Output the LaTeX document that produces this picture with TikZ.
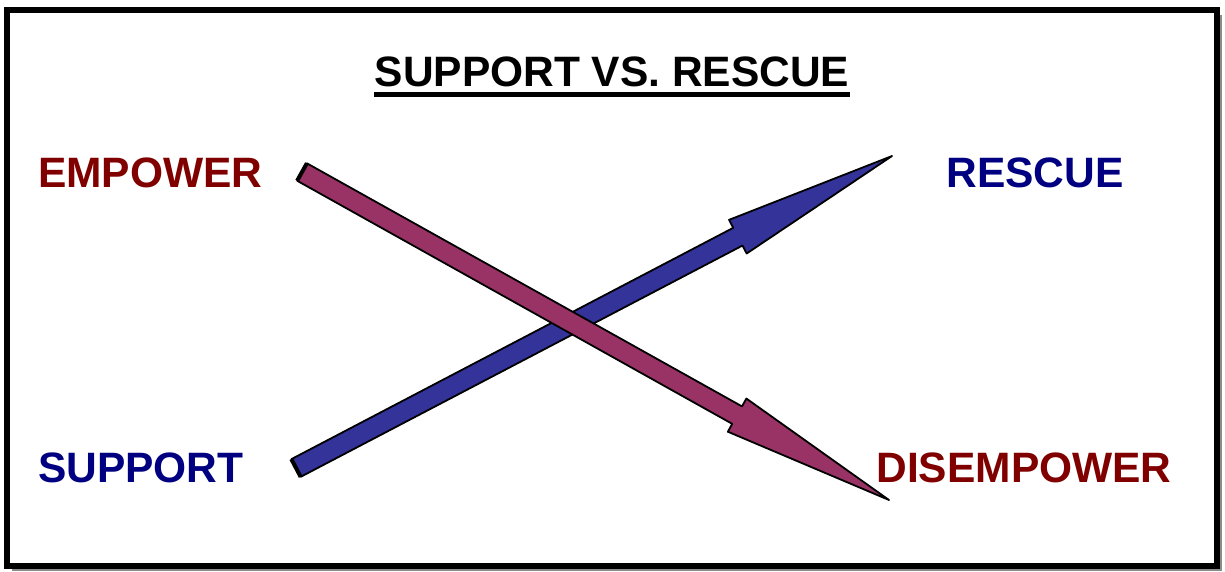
\documentclass[tikz,border=0pt]{standalone}
\usepackage{fontspec}
\setmainfont{Liberation Sans}
\usetikzlibrary{calc}

\definecolor{darkred}{RGB}{128,0,0}
\definecolor{navyblue}{RGB}{0,0,128}
\definecolor{plum}{RGB}{153,51,102}
\definecolor{indigo}{RGB}{51,51,153}

\begin{document}
\begin{tikzpicture}[
    x=1pt, y=-1pt,
    word/.style={inner sep=0pt, font=\fontsize{42.5}{50}\selectfont\bfseries},
    redword/.style={word, text=darkred},
    blueword/.style={word, text=navyblue},
    fatarrow/.style={draw=black, line width=1.8pt, line join=round}
]
\useasboundingbox (0,0) rectangle (1225,572);

% Frame with shadow
\fill[gray!90] (12,15) rectangle (1221.5,571);
\draw[line width=6pt, fill=white] (7,10) rectangle (1216.5,566);

% Title
\node[word, anchor=base] (title) at (612,87) {SUPPORT VS. RESCUE};
\draw[line width=4.5pt] (title.base west) ++(0,7.5) coordinate (ul1) -- (ul1 -| title.base east);

% Labels
\node[redword,  anchor=base west] (empower)    at (38,187)   {EMPOWER};
\node[blueword, anchor=base west] (support)    at (38,482)   {SUPPORT};
\node[blueword, anchor=base]      (rescue)     at (1035,187) {RESCUE};
\node[redword,  anchor=base]      (disempower) at (1024,482) {DISEMPOWER};

% Arrow end points
\coordinate (m0) at (302,172);
\coordinate (m1) at (889,500);
\coordinate (b0) at (296,468);
\coordinate (b1) at (892,156);

% Support -> rescue
\coordinate (bh) at ($(b1)!174pt!(b0)$);
\filldraw[fatarrow, fill=indigo]
    ($(b0)!10pt!90:(b1)$) -- ($(bh)!10pt!-90:(b0)$) -- ($(bh)!19pt!-90:(b0)$) -- (b1)
    -- ($(bh)!19pt!90:(b0)$) -- ($(bh)!10pt!90:(b0)$) -- ($(b0)!10pt!-90:(b1)$) -- cycle;
\draw[line width=4pt] ($(b0)!10pt!90:(b1)$) -- ($(b0)!10pt!-90:(b1)$);

% Empower -> disempower
\coordinate (mh) at ($(m1)!174pt!(m0)$);
\filldraw[fatarrow, fill=plum]
    ($(m0)!10pt!90:(m1)$) -- ($(mh)!10pt!-90:(m0)$) -- ($(mh)!19pt!-90:(m0)$) -- (m1)
    -- ($(mh)!19pt!90:(m0)$) -- ($(mh)!10pt!90:(m0)$) -- ($(m0)!10pt!-90:(m1)$) -- cycle;
\draw[line width=4pt] ($(m0)!10pt!90:(m1)$) -- ($(m0)!10pt!-90:(m1)$);

\end{tikzpicture}
\end{document}
